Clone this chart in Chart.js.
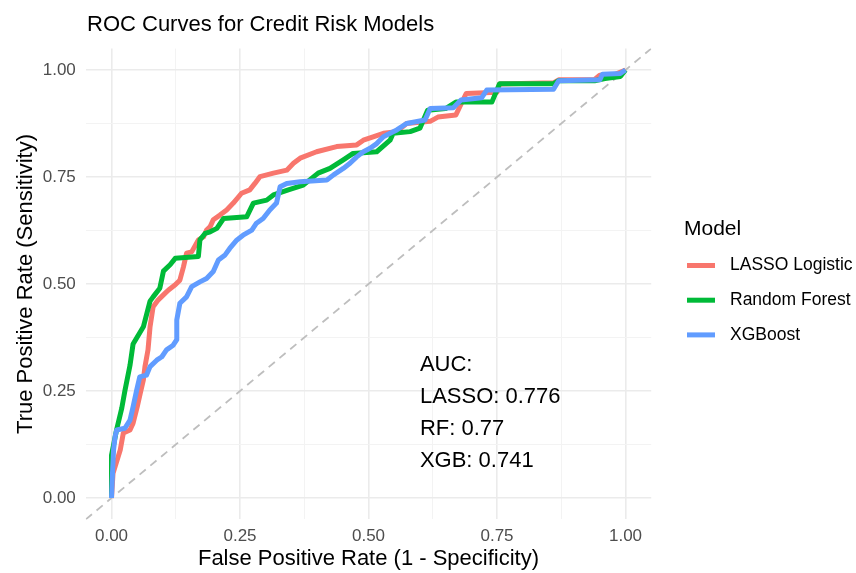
<!DOCTYPE html>
<html>
<head>
<meta charset="utf-8">
<script src="https://cdn.jsdelivr.net/npm/chart.js"></script>
<style>
  html, body { margin: 0; padding: 0; background: #ffffff; }
  #wrap { width: 856px; height: 573px; }
</style>
</head>
<body>
<div id="wrap"><canvas id="roc" width="856" height="573"></canvas></div>
<script>
// --- data
const modelNames = ['LASSO Logistic', 'Random Forest', 'XGBoost'];
const aucLabels = ['LASSO', 'RF', 'XGB'];
const aucValues = ['0.776', '0.77', '0.741'];

const lassoFpr = [0, 0.003, 0.017, 0.023, 0.036, 0.042, 0.05, 0.056, 0.062, 0.065, 0.071, 0.075, 0.081, 0.091, 0.104, 0.111, 0.124, 0.133, 0.14, 0.146, 0.156, 0.169, 0.179, 0.185, 0.192, 0.198, 0.211, 0.224, 0.237, 0.253, 0.269, 0.279, 0.289, 0.315, 0.341, 0.354, 0.367, 0.399, 0.438, 0.477, 0.49, 0.509, 0.529, 0.555, 0.574, 0.62, 0.635, 0.67, 0.69, 0.75, 0.755, 0.86, 0.87, 0.94, 0.95, 0.98, 1];
const lassoTpr = [0, 0.058, 0.112, 0.152, 0.159, 0.175, 0.213, 0.245, 0.276, 0.306, 0.346, 0.4, 0.447, 0.463, 0.478, 0.486, 0.498, 0.509, 0.54, 0.572, 0.575, 0.603, 0.61, 0.626, 0.634, 0.65, 0.661, 0.673, 0.689, 0.712, 0.72, 0.735, 0.751, 0.759, 0.766, 0.782, 0.794, 0.809, 0.821, 0.825, 0.836, 0.844, 0.852, 0.856, 0.875, 0.88, 0.89, 0.895, 0.945, 0.948, 0.967, 0.97, 0.977, 0.978, 0.988, 0.99, 1];

const rfFpr = [0, 0, 0.01, 0.02, 0.026, 0.036, 0.042, 0.062, 0.075, 0.081, 0.094, 0.101, 0.114, 0.124, 0.169, 0.172, 0.182, 0.192, 0.205, 0.218, 0.263, 0.276, 0.302, 0.315, 0.344, 0.373, 0.402, 0.425, 0.451, 0.47, 0.516, 0.542, 0.548, 0.581, 0.6, 0.615, 0.65, 0.67, 0.74, 0.755, 0.86, 0.87, 0.94, 0.96, 0.99, 1];
const rfTpr = [0, 0.1, 0.16, 0.21, 0.25, 0.31, 0.36, 0.4, 0.46, 0.47, 0.49, 0.53, 0.545, 0.56, 0.564, 0.603, 0.618, 0.622, 0.63, 0.653, 0.657, 0.689, 0.696, 0.708, 0.72, 0.731, 0.759, 0.77, 0.79, 0.805, 0.809, 0.836, 0.852, 0.856, 0.864, 0.906, 0.91, 0.925, 0.925, 0.968, 0.968, 0.975, 0.975, 0.98, 0.985, 1];

const xgbFpr = [0, 0.002, 0.004, 0.007, 0.01, 0.026, 0.036, 0.042, 0.049, 0.055, 0.068, 0.075, 0.088, 0.098, 0.107, 0.12, 0.127, 0.127, 0.133, 0.146, 0.156, 0.172, 0.185, 0.198, 0.208, 0.221, 0.23, 0.244, 0.256, 0.273, 0.282, 0.295, 0.308, 0.321, 0.328, 0.341, 0.367, 0.419, 0.432, 0.451, 0.464, 0.477, 0.49, 0.503, 0.516, 0.529, 0.542, 0.555, 0.574, 0.61, 0.62, 0.665, 0.68, 0.72, 0.73, 0.86, 0.87, 0.95, 0.955, 0.99, 1];
const xgbTpr = [0, 0.06, 0.112, 0.143, 0.159, 0.163, 0.182, 0.213, 0.252, 0.283, 0.287, 0.307, 0.322, 0.33, 0.346, 0.357, 0.37, 0.416, 0.455, 0.47, 0.494, 0.505, 0.513, 0.529, 0.556, 0.568, 0.583, 0.603, 0.614, 0.626, 0.642, 0.653, 0.673, 0.689, 0.727, 0.735, 0.739, 0.743, 0.755, 0.77, 0.782, 0.797, 0.809, 0.817, 0.828, 0.844, 0.852, 0.86, 0.875, 0.883, 0.91, 0.912, 0.93, 0.935, 0.953, 0.955, 0.975, 0.977, 0.99, 0.992, 1];

const majorTicks = [0, 0.25, 0.5, 0.75, 1];
const minorTicks = [0.125, 0.375, 0.625, 0.875];
const axisMin = -0.05, axisMax = 1.05;
const ablineIntercept = 0, ablineSlope = 1;
const annoX = 0.6, annoY = 0.2;

// --- styles
const colors = ['#F8766D', '#00BA38', '#619CFF'];
const FONT = "'Liberation Sans', Arial, sans-serif";
Chart.defaults.font.family = FONT;

const toPoints = (xs, ys) => xs.map((x, i) => ({ x, y: ys[i] }));
const isMinor = v => minorTicks.some(m => Math.abs(m - v) < 1e-9);
const allTicks = majorTicks.concat(minorTicks).sort((a, b) => a - b);

const curveSet = (label, xs, ys, color, order) => ({
  label,
  data: toPoints(xs, ys),
  showLine: true,
  borderColor: color,
  backgroundColor: color,
  borderWidth: 5,
  borderCapStyle: 'butt',
  borderJoinStyle: 'round',
  pointRadius: 0,
  tension: 0,
  order
});

const gridOpts = {
  color: c => isMinor(c.tick.value) ? '#F3F3F3' : '#EBEBEB',
  lineWidth: c => isMinor(c.tick.value) ? 1 : 1.6,
  drawTicks: false
};

const decor = {
  id: 'decor',
  afterDraw(chart) {
    const ctx = chart.ctx;
    const xs = chart.scales.x, ys = chart.scales.y;
    ctx.save();
    // title
    ctx.fillStyle = '#000000';
    ctx.font = '22px ' + FONT;
    ctx.textAlign = 'left';
    ctx.textBaseline = 'alphabetic';
    ctx.fillText('ROC Curves for Credit Risk Models', 87, 31);

    // AUC annotation
    const ax = xs.getPixelForValue(annoX);
    const ay = ys.getPixelForValue(annoY);
    const lines = ['AUC:'].concat(aucLabels.map((l, i) => l + ': ' + aucValues[i]));
    const gap = 32;
    ctx.font = '22px ' + FONT;
    ctx.textBaseline = 'middle';
    lines.forEach((t, i) => {
      ctx.fillText(t, ax, ay + 1 + (i - (lines.length - 1) / 2) * gap);
    });

    // legend
    ctx.font = '21px ' + FONT;
    ctx.fillText('Model', 684, 229);
    ctx.font = '17.5px ' + FONT;
    modelNames.forEach((name, i) => {
      const y = 265.5 + i * 34.7;
      ctx.strokeStyle = colors[i];
      ctx.lineWidth = 5;
      ctx.lineCap = 'butt';
      ctx.beginPath();
      ctx.moveTo(687, y);
      ctx.lineTo(715, y);
      ctx.stroke();
      ctx.fillStyle = '#000000';
      ctx.fillText(name, 730, y);
    });
    ctx.restore();
  }
};

new Chart(document.getElementById('roc'), {
  type: 'scatter',
  data: {
    datasets: [
      {
        label: 'diag',
        data: [axisMin, axisMax].map(v => ({ x: v, y: ablineIntercept + ablineSlope * v })),
        showLine: true,
        borderColor: '#BEBEBE',
        borderWidth: 1.8,
        borderDash: [8, 6],
        pointRadius: 0,
        order: 4
      },
      curveSet(modelNames[0], lassoFpr, lassoTpr, colors[0], 3),
      curveSet(modelNames[1], rfFpr, rfTpr, colors[1], 2),
      curveSet(modelNames[2], xgbFpr, xgbTpr, colors[2], 1)
    ]
  },
  options: {
    responsive: false,
    animation: false,
    layout: { padding: { top: 48.6, right: 204.8, left: 0, bottom: 0 } },
    plugins: { legend: { display: false }, tooltip: { enabled: false } },
    scales: {
      x: {
        type: 'linear',
        min: axisMin,
        max: axisMax,
        afterBuildTicks: s => { s.ticks = allTicks.map(v => ({ value: v })); },
        afterFit: s => { s.height = 53.6; },
        grid: gridOpts,
        border: { display: false },
        ticks: {
          autoSkip: false,
          maxRotation: 0,
          padding: 7,
          color: '#4D4D4D',
          font: { size: 17 },
          callback: v => isMinor(v) ? '' : v.toFixed(2)
        },
        title: {
          display: true,
          text: 'False Positive Rate (1 - Specificity)',
          color: '#000000',
          font: { size: 22 },
          padding: { top: 0, bottom: 1 }
        }
      },
      y: {
        type: 'linear',
        min: axisMin,
        max: axisMax,
        afterBuildTicks: s => { s.ticks = allTicks.map(v => ({ value: v })); },
        afterFit: s => { s.width = 85.8; },
        grid: gridOpts,
        border: { display: false },
        ticks: {
          autoSkip: false,
          padding: 10,
          color: '#4D4D4D',
          font: { size: 17 },
          callback: v => isMinor(v) ? '' : v.toFixed(2)
        },
        title: {
          display: true,
          text: 'True Positive Rate (Sensitivity)',
          color: '#000000',
          font: { size: 22 },
          padding: { top: 13, bottom: 0 }
        }
      }
    }
  },
  plugins: [decor]
});
</script>
</body>
</html>
